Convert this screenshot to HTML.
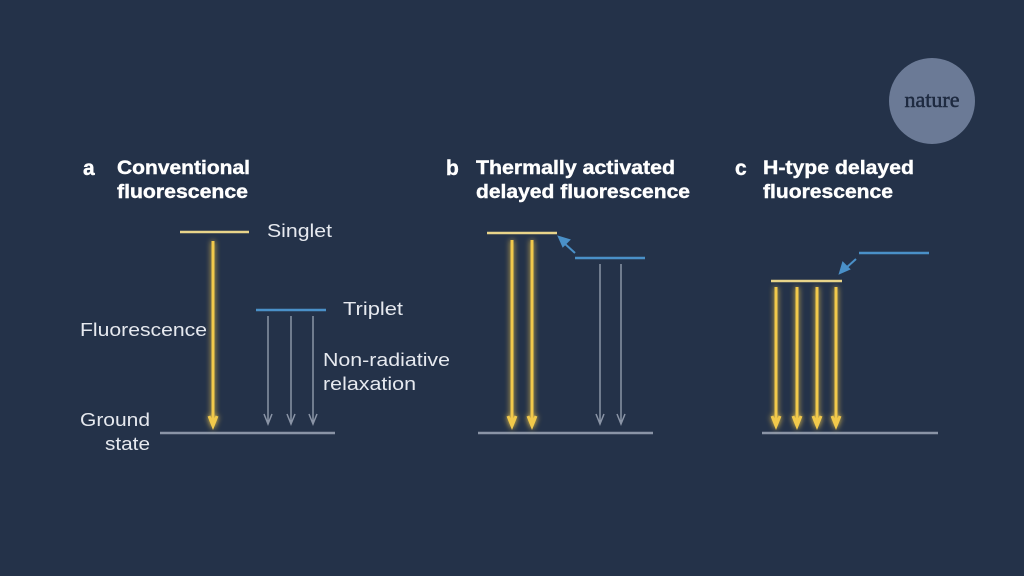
<!DOCTYPE html><html><head><style>body{margin:0;background:#243249;}svg{display:block}</style></head><body>
<svg width="1024" height="576" viewBox="0 0 1024 576" xmlns="http://www.w3.org/2000/svg">
<defs>
<filter id="g" x="-3" y="-0.2" width="7" height="1.4"><feGaussianBlur stdDeviation="3" result="b"/><feMerge><feMergeNode in="b"/><feMergeNode in="SourceGraphic"/></feMerge></filter>
</defs>
<rect width="1024" height="576" fill="#243249"/>
<circle cx="932" cy="101" r="43" fill="#6b7a96"/>
<text x="932" y="107" text-anchor="middle" font-family="Liberation Serif,serif" font-size="22" fill="#1e2a40" stroke="#1e2a40" stroke-width="0.5">nature</text>
<g font-family="Liberation Sans,sans-serif" font-weight="bold" font-size="19" fill="#fff" stroke="#fff" stroke-width="0.4">
<text x="83" y="175" font-size="21">a</text><text x="117" y="174" textLength="133" lengthAdjust="spacingAndGlyphs">Conventional</text><text x="117" y="198" textLength="131" lengthAdjust="spacingAndGlyphs">fluorescence</text>
<text x="446" y="175" font-size="21">b</text><text x="476" y="174" textLength="199" lengthAdjust="spacingAndGlyphs">Thermally activated</text><text x="476" y="198" textLength="214" lengthAdjust="spacingAndGlyphs">delayed fluorescence</text>
<text x="735" y="175" font-size="21">c</text><text x="763" y="174" textLength="151" lengthAdjust="spacingAndGlyphs">H-type delayed</text><text x="763" y="198" textLength="130" lengthAdjust="spacingAndGlyphs">fluorescence</text>
</g>
<g font-family="Liberation Sans,sans-serif" font-size="18" fill="#e6e9ef">
<text x="267" y="237" textLength="65" lengthAdjust="spacingAndGlyphs">Singlet</text><text x="343" y="315" textLength="60" lengthAdjust="spacingAndGlyphs">Triplet</text>
<text x="80" y="336" textLength="127" lengthAdjust="spacingAndGlyphs">Fluorescence</text>
<text x="323" y="366" textLength="127" lengthAdjust="spacingAndGlyphs">Non-radiative</text><text x="323" y="390" textLength="93" lengthAdjust="spacingAndGlyphs">relaxation</text>
<text x="80" y="426" textLength="70" lengthAdjust="spacingAndGlyphs">Ground</text><text x="105" y="450" textLength="45" lengthAdjust="spacingAndGlyphs">state</text>
</g>
<g stroke-width="2.5">
<line x1="180" y1="232" x2="249" y2="232" stroke="#e8d48a"/>
<line x1="256" y1="310" x2="326" y2="310" stroke="#4a90c8"/>
<line x1="160" y1="433" x2="335" y2="433" stroke="#8a94a6"/>
<line x1="487" y1="233" x2="557" y2="233" stroke="#e8d48a"/>
<line x1="575" y1="258" x2="645" y2="258" stroke="#4a90c8"/>
<line x1="478" y1="433" x2="653" y2="433" stroke="#8a94a6"/>
<line x1="859" y1="253" x2="929" y2="253" stroke="#4a90c8"/>
<line x1="771" y1="281" x2="842" y2="281" stroke="#e8d48a"/>
<line x1="762" y1="433" x2="938" y2="433" stroke="#8a94a6"/>
</g>
<g stroke="#8a94a6" stroke-width="1.5" fill="none">
<path d="M268 316V424M264 414l4 10 4-10M291 316V424M287 414l4 10 4-10M313 316V424M309 414l4 10 4-10"/>
<path d="M600 264V424M596 414l4 10 4-10M621 264V424M617 414l4 10 4-10"/>
</g>
<g filter="url(#g)" stroke="#f2c94c" stroke-width="3" fill="none">
<path d="M213 241V426M209 416l4 10 4-10"/>
<path d="M512 240V426M508 416l4 10 4-10"/>
<path d="M532 240V426M528 416l4 10 4-10"/>
<path d="M776 287V426M772 416l4 10 4-10"/>
<path d="M797 287V426M793 416l4 10 4-10"/>
<path d="M817 287V426M813 416l4 10 4-10"/>
<path d="M836 287V426M832 416l4 10 4-10"/>
</g>
<g stroke="#4a90c8" stroke-width="2" fill="#4a90c8">
<line x1="575" y1="253" x2="564" y2="243"/><polygon points="559,237 569,240 563,246"/>
<line x1="856" y1="259" x2="846" y2="268"/><polygon points="840,273 843,263 849,269"/>
</g>
</svg></body></html>
